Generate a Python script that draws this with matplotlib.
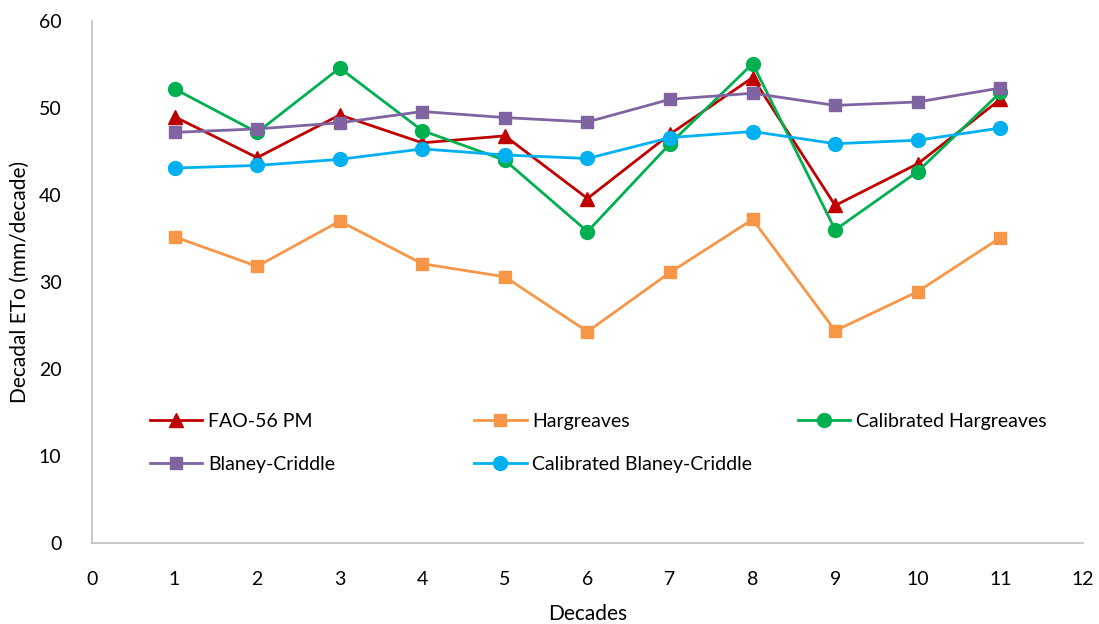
import matplotlib.pyplot as plt

plt.rcParams['font.family'] = ['Lato', 'DejaVu Sans']

decades = [1, 2, 3, 4, 5, 6, 7, 8, 9, 10, 11]
fao56 = [49.0, 44.3, 49.2, 46.0, 46.8, 39.6, 47.0, 53.5, 38.8, 43.6, 51.0]
hargreaves = [35.2, 31.8, 37.0, 32.1, 30.6, 24.3, 31.1, 37.2, 24.4, 28.9, 35.1]
cal_hargreaves = [52.2, 47.2, 54.6, 47.4, 44.0, 35.8, 45.9, 55.1, 36.0, 42.7, 51.8]
blaney = [47.2, 47.6, 48.3, 49.6, 48.9, 48.4, 51.0, 51.7, 50.3, 50.7, 52.3]
cal_blaney = [43.1, 43.4, 44.1, 45.3, 44.6, 44.2, 46.6, 47.3, 45.9, 46.3, 47.7]

fig = plt.figure(figsize=(10.99, 6.24), dpi=100)
ax = fig.add_axes([0.0837, 0.1298, 0.9017, 0.8365])

lw = 2.0
ms = 10
l1, = ax.plot(decades, fao56, color='#C00000', marker='^', lw=lw, ms=ms, label='FAO-56 PM')
l2, = ax.plot(decades, hargreaves, color='#F79646', marker='s', lw=lw, ms=ms - 1, label='Hargreaves')
l3, = ax.plot(decades, cal_hargreaves, color='#00B050', marker='o', lw=lw, ms=ms, label='Calibrated Hargreaves')
l4, = ax.plot(decades, blaney, color='#8064A2', marker='s', lw=lw, ms=ms - 1, label='Blaney-Criddle')
l5, = ax.plot(decades, cal_blaney, color='#00B0F0', marker='o', lw=lw, ms=ms, label='Calibrated Blaney-Criddle')

ax.set_xlim(0, 12)
ax.set_ylim(0, 60)
ax.set_xticks(range(0, 13))
ax.set_yticks(range(0, 61, 10))
ax.tick_params(axis='x', length=0, labelsize=14, pad=20)
ax.tick_params(axis='y', length=0, labelsize=14, pad=22)
for s in ['top', 'right']:
    ax.spines[s].set_visible(False)
for s in ['left', 'bottom']:
    ax.spines[s].set_color('#BFBFBF')
    ax.spines[s].set_linewidth(1.2)

ax.set_xlabel('Decades', fontsize=15, labelpad=12)
ax.set_ylabel('Decadal ETo (mm/decade)', fontsize=15, labelpad=6)

# Excel-style legend: three evenly spaced columns
columns = [([l1, l4], 0.0585, 0.1916), ([l2, l5], 0.3855, 0.1916), ([l3], 0.7124, 0.2337)]
for i, (hs, x, y) in enumerate(columns):
    leg = ax.legend(hs, [h.get_label() for h in hs], loc='center left',
                    bbox_to_anchor=(x, y), frameon=False, fontsize=14,
                    handlelength=2.7, handletextpad=0.3, labelspacing=1.35,
                    borderpad=0, borderaxespad=0)
    if i < len(columns) - 1:
        ax.add_artist(leg)

fig.savefig('out.png', dpi=100)
